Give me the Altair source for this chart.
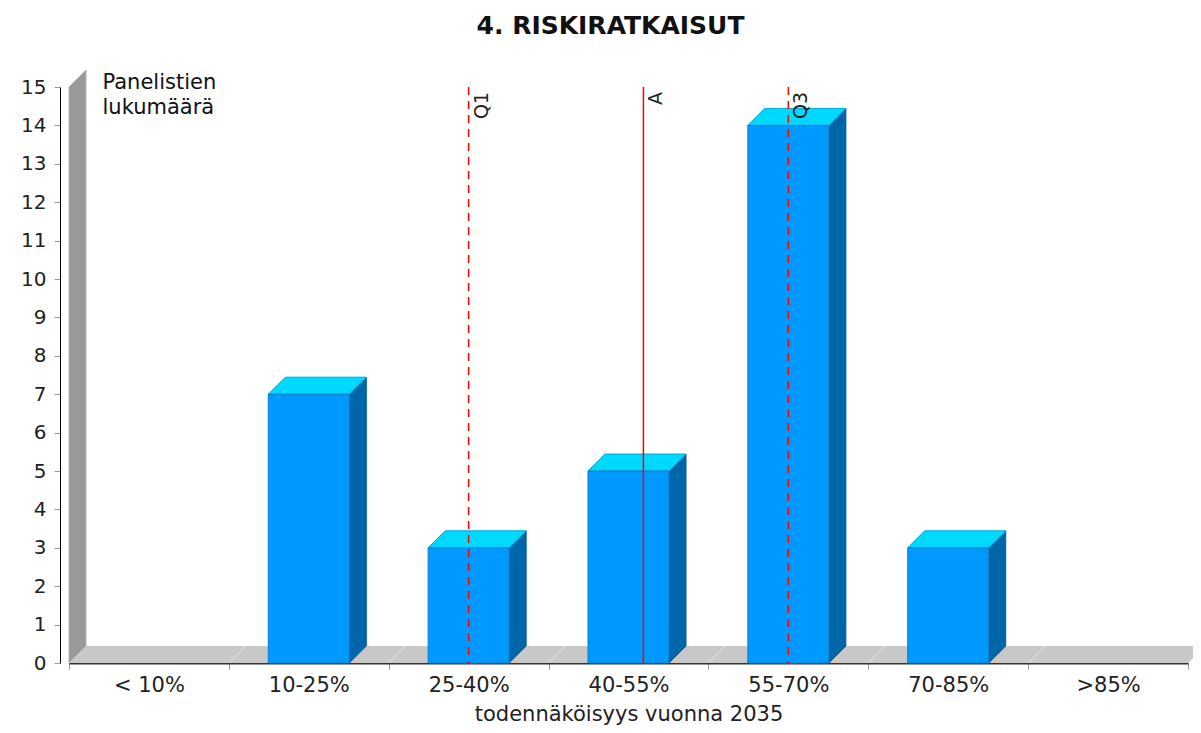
import altair as alt
import pandas as pd

# ---- data ----
categories = ["< 10%", "10-25%", "25-40%", "40-55%", "55-70%", "70-85%", ">85%"]
counts = [0, 7, 3, 5, 14, 3, 0]
bin_edges = [-5, 10, 25, 40, 55, 70, 85, 100]   # probability scale, 15 points per class
stat_names = ["Q1", "A", "Q3"]
stat_values = [32.5, 48.9, 62.5]
stat_dashed = [True, False, True]

# ---- layout constants ----
W, H = 1119, 576
XMIN, XMAX = bin_edges[0], bin_edges[-1]
YMAX = 15
DEPTH_PX = 17
dx = DEPTH_PX * (XMAX - XMIN) / W
dy = DEPTH_PX * YMAX / H
HALF = 40.5 * (XMAX - XMIN) / W
FONT = "DejaVu Sans"

# ---- derived tables ----
front, side, top = [], [], []
for i, (cat, c) in enumerate(zip(categories, counts)):
    if c <= 0:
        continue
    mid = (bin_edges[i] + bin_edges[i + 1]) / 2
    L, R = mid - HALF, mid + HALF
    front.append({"cat": cat, "x": L, "x2": R, "y": 0, "y2": c})
    side.append({"cat": cat, "x": R, "y": 0, "y2": c})
    side.append({"cat": cat, "x": R + dx, "y": dy, "y2": c + dy})
    top.append({"cat": cat, "y": c, "x": L, "x2": R})
    top.append({"cat": cat, "y": c + dy, "x": L + dx, "x2": R + dx})
front, side, top = pd.DataFrame(front), pd.DataFrame(side), pd.DataFrame(top)

floor = pd.DataFrame({"y": [0, dy], "x": [XMIN, XMIN + dx], "x2": [XMAX, XMAX + dx]})
wall = pd.DataFrame({"x": [XMIN, XMIN + dx], "y": [0, dy], "y2": [YMAX, YMAX + dy]})
seams = pd.DataFrame({"x": bin_edges[1:-1]})
seams["x2"] = seams["x"] + dx
seams["y"] = 0
seams["y2"] = dy
stats = pd.DataFrame({"name": stat_names, "x": stat_values, "dashed": stat_dashed, "y": YMAX})

# ---- scales / axes ----
labels_js = "[" + ",".join("'" + c + "'" for c in categories) + ",'']"
edges_js = "[" + ",".join(str(e) for e in bin_edges) + "]"
xscale = alt.Scale(domain=[XMIN, XMAX], nice=False, zero=False)
yscale = alt.Scale(domain=[0, YMAX], nice=False, zero=False)
xaxis = alt.Axis(
    values=bin_edges,
    labelExpr=f"{labels_js}[indexof({edges_js}, datum.value)]",
    labelOffset=W / 7 / 2, labelFlush=False, labelOverlap=False, labelBound=False,
    tickSize=6, tickColor="#999999", domainColor="#333333", domainWidth=2,
    labelFontSize=21, labelColor="#222222", labelPadding=5,
    title="todennäköisyys vuonna 2035", titleFontSize=21, titleFontWeight="normal",
    titleColor="#222222", titlePadding=8, grid=False,
)
yaxis = alt.Axis(
    values=list(range(0, YMAX + 1)), offset=9, domainColor="#000000",
    tickColor="#999999", tickSize=6, labelFontSize=20, labelColor="#222222",
    labelPadding=8, grid=False,
    title=["Panelistien", "lukumäärä"], titleAngle=0, titleAlign="left",
    titleBaseline="top", titleX=42, titleY=-16, titleFontSize=21,
    titleFontWeight="normal", titleColor="#111111", titleLineHeight=25,
)


def X(field="x"):
    return alt.X(f"{field}:Q", scale=xscale, axis=xaxis)


def Y(field="y"):
    return alt.Y(f"{field}:Q", scale=yscale, axis=yaxis)


wall_l = alt.Chart(wall).mark_area(color="#999999", stroke="#b5b5b5", strokeWidth=1).encode(
    x=X(), y=Y(), y2="y2:Q")
floor_l = alt.Chart(floor).mark_area(orient="horizontal", color="#c8c8c8").encode(
    y=Y(), x=X(), x2="x2:Q")
seam_l = alt.Chart(seams).mark_rule(color="#e8e8e8", strokeWidth=1).encode(
    x=X(), x2="x2:Q", y=Y(), y2="y2:Q")
side_l = alt.Chart(side).mark_area(color="#0066aa", stroke="#005a99", strokeWidth=1).encode(
    x=X(), y=Y(), y2="y2:Q", detail="cat:N")
top_l = alt.Chart(top).mark_area(orient="horizontal", color="#00d9ff", stroke="#00a8d8",
                                 strokeWidth=1).encode(
    y=Y(), x=X(), x2="x2:Q", detail="cat:N")
front_l = alt.Chart(front).mark_rect(color="#0099ff", stroke="#0a7fc8", strokeWidth=1).encode(
    x=X(), x2="x2:Q", y=Y(), y2="y2:Q")
rule_l = alt.Chart(stats).mark_rule(color="#ff0000", strokeWidth=1.5).encode(
    x=X(),
    strokeDash=alt.condition("datum.dashed", alt.value([8, 6]), alt.value([1, 0])),
)
text_l = alt.Chart(stats).mark_text(
    angle=270, align="right", baseline="top", fontSize=19, font=FONT,
    color="#222222", xOffset=4, yOffset=5,
).encode(x=X(), y=Y(), text="name:N")

chart = alt.layer(wall_l, floor_l, seam_l, side_l, top_l, front_l, rule_l, text_l).properties(
    width=W, height=H,
    padding={"left": 61, "top": 79, "right": 5, "bottom": 66},
    autosize=alt.AutoSizeParams(type="none"),
    title=alt.TitleParams("4. RISKIRATKAISUT", fontSize=25, font=FONT, fontWeight="bold",
                          color="#111111", anchor="middle", offset=29, dx=-18),
).configure(font=FONT).configure_view(stroke=None).configure_axis(
    labelFont=FONT, titleFont=FONT)

chart.save("out.html", embed_options={"renderer": "svg", "actions": False})
